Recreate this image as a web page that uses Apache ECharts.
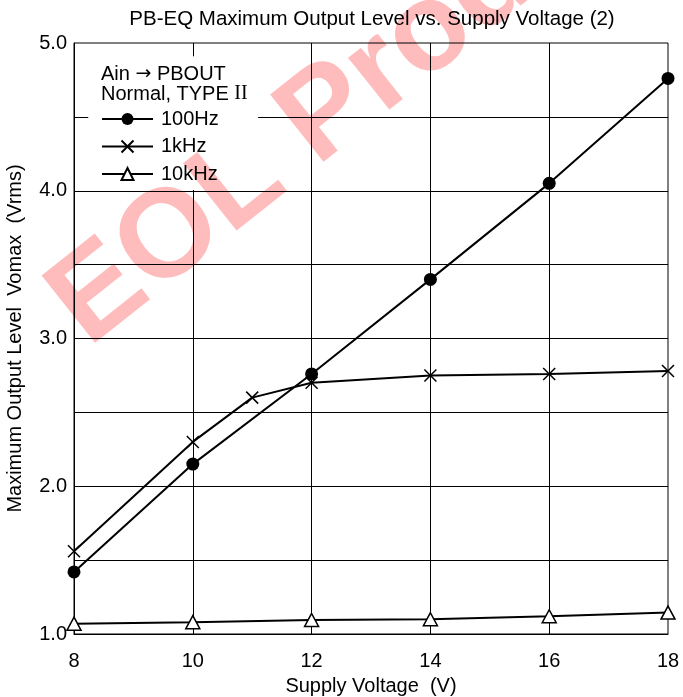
<!DOCTYPE html>
<html>
<head>
<meta charset="utf-8">
<script src="https://cdn.jsdelivr.net/npm/echarts@6/dist/echarts.min.js"></script>
<style>
  html, body { margin: 0; padding: 0; background: #fff; }
  #chart { width: 683px; height: 697px; }
</style>
</head>
<body>
<div id="chart"></div>
<script>
// Supply voltage (V) sample points
const supplyVoltage = [8, 10, 12, 14, 16, 18];
const supplyVoltage1k = [8, 10, 11, 12, 14, 16, 18];
// Maximum output level Vomax (Vrms)
const vomax100Hz = [1.42, 2.15, 2.76, 3.40, 4.05, 4.76];
const vomax1kHz = [1.56, 2.30, 2.60, 2.70, 2.75, 2.76, 2.78];
const vomax10kHz = [1.07, 1.08, 1.095, 1.10, 1.12, 1.145];
// Labelled y ticks
const yTickLabels = [1.0, 2.0, 3.0, 4.0, 5.0];
// Interior grid lines (axis units)
const xGridValues = [10, 12, 14, 16];
const yGridValues = [1.5, 2.0, 2.5, 3.0, 3.5, 4.0, 4.5];

const X_MIN = 8, X_MAX = 18, Y_MIN = 1, Y_MAX = 5;
// Area kept clear of grid lines behind the legend block (axis units)
const legendClearX = [8.24, 11.1];
const legendClearY = [4.005, 4.91];

const FONT = '"Liberation Sans", Arial, Helvetica, sans-serif';
const pairs = (xs, ys) => xs.map((x, i) => [x, ys[i]]);
const CROSS = 'path://M0,0L10,10M0,10L10,0';

// Grid line segments, broken where they would run through the legend block
function gridSegments() {
  const segs = [];
  const seg = (a, b) => segs.push([{ coord: a }, { coord: b }]);
  xGridValues.forEach(x => {
    if (x > legendClearX[0] && x < legendClearX[1]) {
      seg([x, Y_MIN], [x, legendClearY[0]]);
      seg([x, legendClearY[1]], [x, Y_MAX]);
    } else {
      seg([x, Y_MIN], [x, Y_MAX]);
    }
  });
  yGridValues.forEach(y => {
    if (y > legendClearY[0] && y < legendClearY[1]) {
      seg([X_MIN, y], [legendClearX[0], y]);
      seg([legendClearX[1], y], [X_MAX, y]);
    } else {
      seg([X_MIN, y], [X_MAX, y]);
    }
  });
  return segs;
}

const chart = echarts.init(document.getElementById('chart'), null, { renderer: 'canvas' });

chart.setOption({
  animation: false,
  backgroundColor: '#fff',
  textStyle: { fontFamily: FONT, color: '#000' },
  title: {
    text: 'PB-EQ Maximum Output Level vs. Supply Voltage (2)',
    left: 372,
    textAlign: 'center',
    top: 9,
    padding: 0,
    textStyle: { fontFamily: FONT, fontSize: 20.5, fontWeight: 'normal', color: '#000' }
  },
  grid: {
    left: 74, right: 15, top: 43, bottom: 63,
    outerBoundsMode: 'none',
    containLabel: false,
    show: true, borderColor: '#000', borderWidth: 1, backgroundColor: 'transparent'
  },
  xAxis: {
    type: 'value',
    min: X_MIN, max: X_MAX, interval: 2,
    name: 'Supply Voltage  (V)',
    nameLocation: 'middle',
    nameGap: 42,
    nameTextStyle: { fontFamily: FONT, fontSize: 20, color: '#000' },
    axisLine: { show: true, lineStyle: { color: '#000', width: 1 } },
    axisTick: { show: false },
    axisLabel: { fontFamily: FONT, fontSize: 20, color: '#000', margin: 17 },
    splitLine: { show: false }
  },
  yAxis: {
    type: 'value',
    min: Y_MIN, max: Y_MAX, interval: 0.5,
    name: 'Maximum Output Level  Vomax  (Vrms)',
    nameLocation: 'middle',
    nameGap: 49,
    nameTextStyle: { fontFamily: FONT, fontSize: 20, color: '#000' },
    axisLine: { show: true, lineStyle: { color: '#000', width: 1 } },
    axisTick: { show: false },
    axisLabel: {
      fontFamily: FONT, fontSize: 20, color: '#000', margin: 7,
      formatter: v => (yTickLabels.some(t => Math.abs(t - v) < 1e-9) ? v.toFixed(1) : '')
    },
    splitLine: { show: false }
  },
  legend: {
    orient: 'vertical',
    left: 101,
    top: 109,
    padding: 0,
    itemWidth: 51,
    itemHeight: 15,
    itemGap: 7.5,
    z: 10,
    textStyle: { fontFamily: FONT, fontSize: 20, color: '#000', padding: [0, 0, 0, 3] },
    data: ['100Hz', '1kHz', '10kHz']
  },
  graphic: [
    {
      type: 'text', z: -1, silent: true,
      x: 67, y: 321, rotation: 0.67,
      style: {
        text: 'EOL Product',
        font: 'bold 125px ' + FONT,
        fill: 'rgb(255,188,188)',
        align: 'left', verticalAlign: 'middle'
      }
    },
    {
      type: 'text', z: 6, silent: true,
      x: 101, y: 64,
      style: {
        text: 'Ain {a|\u2192} PBOUT',
        font: '20px ' + FONT, fill: '#000',
        rich: { a: { fontFamily: '"DejaVu Sans", sans-serif', fontSize: 19, fill: '#000' } }
      }
    },
    {
      type: 'text', z: 6, silent: true,
      x: 101, y: 84,
      style: {
        text: 'Normal, TYPE {s|II}',
        font: '20px ' + FONT, fill: '#000',
        rich: { s: { fontFamily: '"Liberation Serif", "Times New Roman", serif', fontSize: 20, fill: '#000' } }
      }
    }
  ],
  series: [
    {
      name: 'grid', type: 'line', z: 1, silent: true,
      data: [],
      markLine: {
        silent: true,
        symbol: ['none', 'none'],
        label: { show: false },
        lineStyle: { color: '#000', width: 1, type: 'solid' },
        emphasis: { disabled: true },
        data: gridSegments()
      }
    },
    {
      name: '100Hz', type: 'line', z: 20,
      data: pairs(supplyVoltage, vomax100Hz),
      symbol: 'circle', symbolSize: 13,
      lineStyle: { color: '#000', width: 2 },
      itemStyle: { color: '#000', borderColor: '#000', borderWidth: 0 },
      emphasis: { disabled: true }
    },
    {
      name: '1kHz', type: 'line', z: 20,
      data: pairs(supplyVoltage1k, vomax1kHz),
      symbol: CROSS, symbolSize: 12,
      lineStyle: { color: '#000', width: 2 },
      itemStyle: { color: 'rgba(0,0,0,0)', borderColor: '#000', borderWidth: 1.5 },
      emphasis: { disabled: true }
    },
    {
      name: '10kHz', type: 'line', z: 20,
      data: pairs(supplyVoltage, vomax10kHz),
      symbol: 'triangle', symbolSize: [14, 13],
      lineStyle: { color: '#000', width: 2 },
      itemStyle: { color: '#fff', borderColor: '#000', borderWidth: 1.5 },
      emphasis: { disabled: true }
    }
  ]
});
</script>
</body>
</html>
